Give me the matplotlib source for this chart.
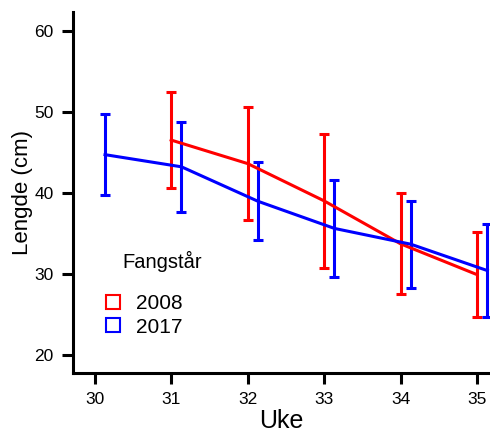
import matplotlib
matplotlib.use("Agg")
import matplotlib.pyplot as plt
from matplotlib.lines import Line2D

plt.rcParams['font.family'] = ['Liberation Sans', 'DejaVu Sans']

weeks = [30, 31, 32, 33, 34, 35]
weeks_2008 = [31, 32, 33, 34, 35]
mean_2008 = [46.5, 43.6, 39.0, 33.7, 29.9]
sd_2008 = [5.95, 7.0, 8.3, 6.25, 5.2]
weeks_2017 = [30, 31, 32, 33, 34, 35]
mean_2017 = [44.7, 43.2, 38.95, 35.6, 33.65, 30.4]
sd_2017 = [5.0, 5.55, 4.8, 5.97, 5.35, 5.75]
dodge_2017 = 0.135
series_labels = ["2008", "2017"]
legend_title = "Fangstår"
yticks = [20, 30, 40, 50, 60]

fig = plt.figure(figsize=(4.9, 4.32), dpi=100)
ax = fig.add_axes([0.1496, 0.1373, 0.8504, 0.8349])

red = '#FF0000'
blue = '#0000FF'
lw = 2.2

ax.errorbar(weeks_2008, mean_2008, yerr=sd_2008, color=red, lw=lw,
            elinewidth=2.2, capsize=3.5, capthick=2.2, clip_on=False, zorder=3)
ax.errorbar([w + dodge_2017 for w in weeks_2017], mean_2017, yerr=sd_2017,
            color=blue, lw=lw, elinewidth=2.2, capsize=3.5, capthick=2.2,
            clip_on=False, zorder=3)

ax.set_xlim(29.72, 35.17)
ax.set_ylim(17.8, 62.3)
ax.set_xticks(weeks)
ax.set_yticks(yticks)

for s in ['top', 'right']:
    ax.spines[s].set_visible(False)
for s in ['left', 'bottom']:
    ax.spines[s].set_linewidth(2.2)
ax.tick_params(axis='both', which='major', length=8, width=2.2,
               labelsize=12.5, direction='out', pad=6)

ax.set_xlabel("Uke", fontsize=18, labelpad=1)
ax.set_ylabel("Lengde (cm)", fontsize=16, labelpad=1)

handles = [Line2D([], [], linestyle='none', marker='s', markersize=10,
                  markerfacecolor='none', markeredgecolor=c, markeredgewidth=1.5)
           for c in (red, blue)]
leg = ax.legend(handles, series_labels, frameon=False, fontsize=15,
                loc='upper left', bbox_to_anchor=(0.05, 0.24),
                handlelength=1.0, handletextpad=0.6, labelspacing=0.2,
                borderaxespad=0)
ax.text(0.117, 0.28, legend_title, transform=ax.transAxes, fontsize=14.5,
        ha='left', va='bottom')

fig.savefig("out.png", dpi=100)
